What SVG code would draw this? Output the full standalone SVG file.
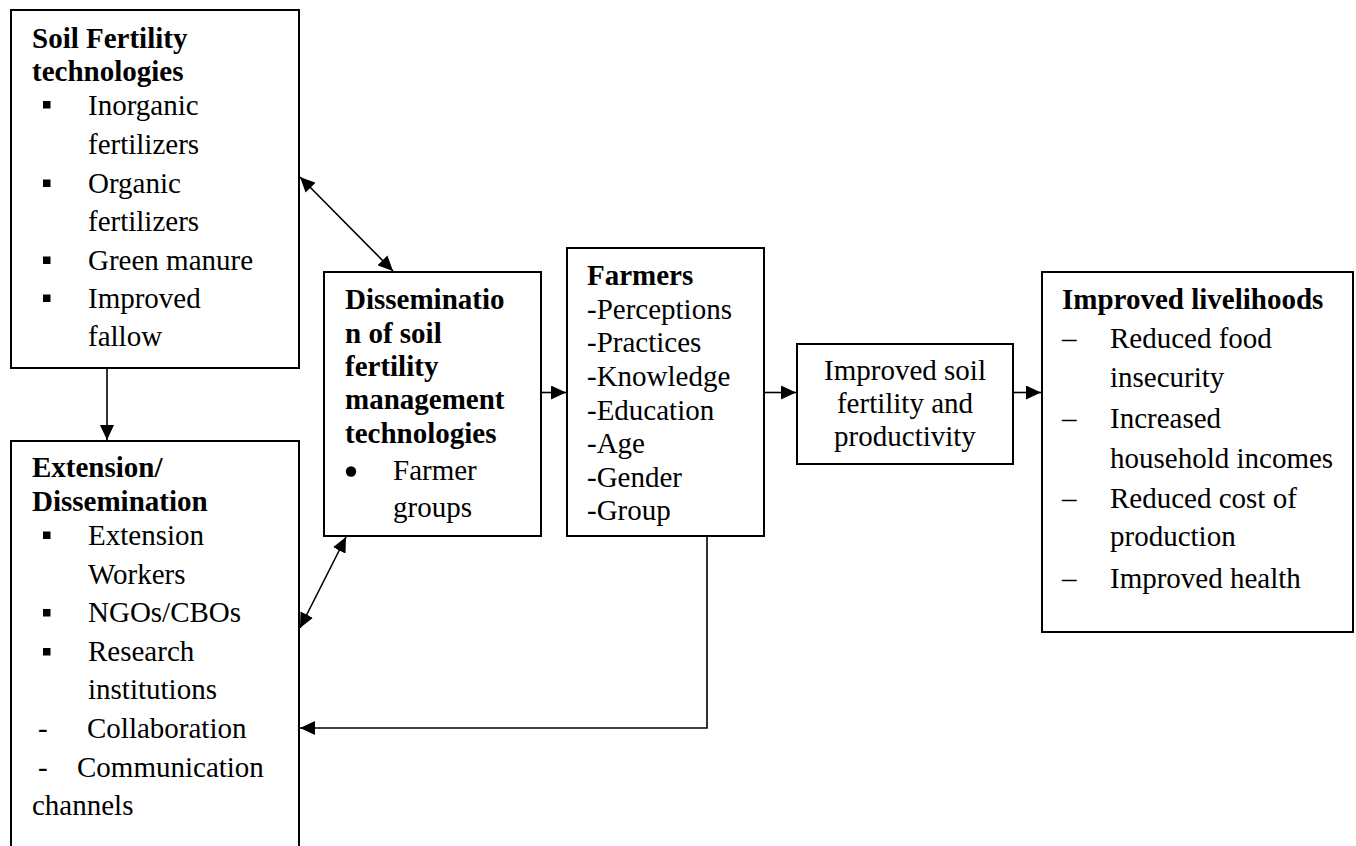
<svg xmlns="http://www.w3.org/2000/svg" width="1356" height="846" viewBox="0 0 1356 846">
<style>
.box{fill:#fff;stroke:#000;stroke-width:2}
.t{font-family:"Liberation Serif","Times New Roman",serif;font-size:29px;fill:#000}
.b{font-weight:bold}
.c{text-anchor:middle}
.con{fill:none;stroke:#000;stroke-width:1.6}
</style>
<defs>
<marker id="ah" markerUnits="userSpaceOnUse" markerWidth="16" markerHeight="14" refX="15" refY="7" orient="auto-start-reverse">
<path d="M0,0 L15,7 L0,14 z" fill="#000"/>
</marker>
</defs>
<rect width="1356" height="846" fill="#fff"/>

<g id="connectors">
<line class="con" x1="107" y1="368" x2="107" y2="440" marker-end="url(#ah)"/>
<line class="con" x1="300" y1="177" x2="393" y2="271" marker-start="url(#ah)" marker-end="url(#ah)"/>
<line class="con" x1="300" y1="628" x2="346" y2="537" marker-start="url(#ah)" marker-end="url(#ah)"/>
<line class="con" x1="541" y1="392.5" x2="566" y2="392.5" marker-end="url(#ah)"/>
<line class="con" x1="764" y1="392.5" x2="796" y2="392.5" marker-end="url(#ah)"/>
<line class="con" x1="1013" y1="392.5" x2="1041" y2="392.5" marker-end="url(#ah)"/>
<polyline class="con" points="707,536 707,728 300,728" marker-end="url(#ah)"/>
</g>

<g id="soil-fertility-technologies">
<rect class="box" x="11" y="10" width="288" height="358"/>
<text class="t b" x="32" y="48">Soil Fertility</text>
<text class="t b" x="32" y="81">technologies</text>
<rect x="43" y="101" width="7.5" height="7.5"/>
<text class="t" x="88" y="115">Inorganic</text>
<text class="t" x="88" y="154">fertilizers</text>
<rect x="43" y="179.5" width="7.5" height="7.5"/>
<text class="t" x="88" y="193">Organic</text>
<text class="t" x="88" y="231">fertilizers</text>
<rect x="43" y="256.5" width="7.5" height="7.5"/>
<text class="t" x="88" y="270">Green manure</text>
<rect x="43" y="294.5" width="7.5" height="7.5"/>
<text class="t" x="88" y="308">Improved</text>
<text class="t" x="88" y="346">fallow</text>
</g>

<g id="extension-dissemination">
<rect class="box" x="11" y="441" width="288" height="430"/>
<text class="t b" x="32" y="477">Extension/</text>
<text class="t b" x="32" y="511">Dissemination</text>
<rect x="43" y="531.5" width="7.5" height="7.5"/>
<text class="t" x="88" y="545">Extension</text>
<text class="t" x="88" y="583.5">Workers</text>
<rect x="43" y="609" width="7.5" height="7.5"/>
<text class="t" x="88" y="622">NGOs/CBOs</text>
<rect x="43" y="648" width="7.5" height="7.5"/>
<text class="t" x="88" y="661">Research</text>
<text class="t" x="88" y="699">institutions</text>
<text class="t" x="38" y="738">-</text>
<text class="t" x="87" y="738">Collaboration</text>
<text class="t" x="38" y="776.5">-</text>
<text class="t" x="77" y="776.5">Communication</text>
<text class="t" x="32" y="815">channels</text>
</g>

<g id="dissemination-of-technologies">
<rect class="box" x="324" y="272" width="217" height="264"/>
<text class="t b" x="345" y="309">Disseminatio</text>
<text class="t b" x="345" y="342.5">n of soil</text>
<text class="t b" x="345" y="375.5">fertility</text>
<text class="t b" x="345" y="409">management</text>
<text class="t b" x="345" y="442.5">technologies</text>
<circle cx="351" cy="471.5" r="5.2"/>
<text class="t" x="393" y="480">Farmer</text>
<text class="t" x="393" y="517">groups</text>
</g>

<g id="farmers">
<rect class="box" x="567" y="248" width="197" height="288"/>
<text class="t b" x="587" y="285">Farmers</text>
<text class="t" x="587" y="319">-Perceptions</text>
<text class="t" x="587" y="352">-Practices</text>
<text class="t" x="587" y="386">-Knowledge</text>
<text class="t" x="587" y="420">-Education</text>
<text class="t" x="587" y="453">-Age</text>
<text class="t" x="587" y="487">-Gender</text>
<text class="t" x="587" y="520">-Group</text>
</g>

<g id="improved-soil-fertility">
<rect class="box" x="797" y="344" width="216" height="120"/>
<text class="t c" x="905" y="380">Improved soil</text>
<text class="t c" x="905" y="413">fertility and</text>
<text class="t c" x="905" y="446">productivity</text>
</g>

<g id="improved-livelihoods">
<rect class="box" x="1042" y="272" width="311" height="360"/>
<text class="t b" x="1062" y="309">Improved livelihoods</text>
<text class="t" x="1062" y="348">–</text>
<text class="t" x="1110" y="348">Reduced food</text>
<text class="t" x="1110" y="387">insecurity</text>
<text class="t" x="1062" y="428">–</text>
<text class="t" x="1110" y="428">Increased</text>
<text class="t" x="1110" y="467.5">household incomes</text>
<text class="t" x="1062" y="508">–</text>
<text class="t" x="1110" y="508">Reduced cost of</text>
<text class="t" x="1110" y="546">production</text>
<text class="t" x="1062" y="588">–</text>
<text class="t" x="1110" y="588">Improved health</text>
</g>
</svg>
